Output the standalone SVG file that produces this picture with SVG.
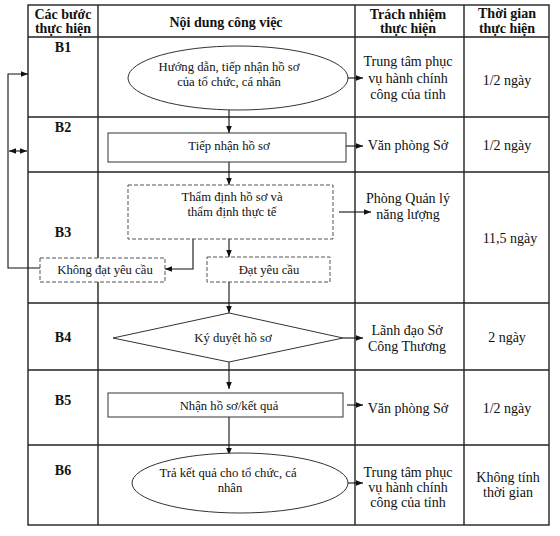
<svg xmlns="http://www.w3.org/2000/svg" width="560" height="536" viewBox="0 0 560 536">
<defs>
<marker id="ah" viewBox="0 0 10 10" refX="10" refY="5" markerWidth="7" markerHeight="7" markerUnits="userSpaceOnUse" orient="auto-start-reverse"><path d="M0,1 L10,5 L0,9 z" fill="#111"/></marker>
<style>
.grid{stroke:#222;stroke-width:1.4;fill:none}
.shape{stroke:#333;stroke-width:1;fill:#fff}
.dash{stroke:#555;stroke-width:1;fill:#fff;stroke-dasharray:4 2}
.con{stroke:#111;stroke-width:1.1;fill:none}
text{font-family:"Liberation Serif","Times New Roman",serif;fill:#111;text-anchor:middle}
.hd{font-weight:bold;font-size:14px}
.c{font-size:14px}
.s{font-size:12.7px}
</style>
</defs>
<rect width="560" height="536" fill="#fff"/>
<g id="table">
<rect class="grid" x="28" y="5" width="521" height="520"/>
<line class="grid" x1="98" y1="5" x2="98" y2="525"/>
<line class="grid" x1="355" y1="5" x2="355" y2="525"/>
<line class="grid" x1="464" y1="5" x2="464" y2="525"/>
<line class="grid" x1="28" y1="37" x2="549" y2="37"/>
<line class="grid" x1="28" y1="117" x2="549" y2="117"/>
<line class="grid" x1="28" y1="172" x2="549" y2="172"/>
<line class="grid" x1="28" y1="303" x2="549" y2="303"/>
<line class="grid" x1="28" y1="370" x2="549" y2="370"/>
<line class="grid" x1="28" y1="445" x2="549" y2="445"/>
<text class="hd" x="63" y="19">Các bước</text>
<text class="hd" x="63" y="33">thực hiện</text>
<text class="hd" x="226" y="27">Nội dung công việc</text>
<text class="hd" x="408" y="19">Trách nhiệm</text>
<text class="hd" x="408" y="33">thực hiện</text>
<text class="hd" x="507" y="18">Thời gian</text>
<text class="hd" x="507" y="33">thực hiện</text>
<text class="hd" x="63" y="52">B1</text>
<text class="hd" x="63" y="132">B2</text>
<text class="hd" x="63" y="237">B3</text>
<text class="hd" x="63" y="342">B4</text>
<text class="hd" x="63" y="405">B5</text>
<text class="hd" x="63" y="475">B6</text>
<text class="c" x="408" y="66">Trung tâm phục</text>
<text class="c" x="408" y="83">vụ hành chính</text>
<text class="c" x="408" y="99">công của tỉnh</text>
<text class="c" x="507" y="85">1/2 ngày</text>
<text class="c" x="408" y="150">Văn phòng Sở</text>
<text class="c" x="507" y="150">1/2 ngày</text>
<text class="c" x="408" y="203">Phòng Quản lý</text>
<text class="c" x="408" y="219">năng lượng</text>
<text class="c" x="510" y="243">11,5 ngày</text>
<text class="c" x="407" y="335">Lãnh đạo Sở</text>
<text class="c" x="407" y="351">Công Thương</text>
<text class="c" x="507" y="342">2 ngày</text>
<text class="c" x="408" y="413">Văn phòng Sở</text>
<text class="c" x="507" y="413">1/2 ngày</text>
<text class="c" x="408" y="477">Trung tâm phục</text>
<text class="c" x="408" y="492">vụ hành chính</text>
<text class="c" x="408" y="507">công của tỉnh</text>
<text class="c" x="508" y="482">Không tính</text>
<text class="c" x="508" y="497">thời gian</text>
</g>
<g id="connectors">
<line class="con" x1="229" y1="110" x2="229" y2="133" marker-end="url(#ah)"/>
<line class="con" x1="229" y1="162" x2="229" y2="185" marker-end="url(#ah)"/>
<line class="con" x1="229" y1="239" x2="229" y2="257" marker-end="url(#ah)"/>
<line class="con" x1="229" y1="282" x2="229" y2="313" marker-end="url(#ah)"/>
<line class="con" x1="229" y1="362" x2="229" y2="389" marker-end="url(#ah)"/>
<line class="con" x1="229" y1="417" x2="229" y2="455" marker-end="url(#ah)"/>
<polyline class="con" points="193,239 193,269 165,269" marker-end="url(#ah)"/>
<line class="con" x1="348" y1="78" x2="363" y2="78" marker-end="url(#ah)"/>
<line class="con" x1="346" y1="146" x2="363" y2="146" marker-end="url(#ah)"/>
<line class="con" x1="339" y1="212" x2="371" y2="212" marker-end="url(#ah)"/>
<line class="con" x1="343" y1="338" x2="363" y2="338" marker-end="url(#ah)"/>
<line class="con" x1="347" y1="405" x2="363" y2="405" marker-end="url(#ah)"/>
<line class="con" x1="348" y1="483" x2="363" y2="483" marker-end="url(#ah)"/>
<polyline class="con" points="40,268 8,268 8,74 28,74" marker-end="url(#ah)"/>
<line class="con" x1="9" y1="151" x2="27" y2="151" marker-start="url(#ah)" marker-end="url(#ah)"/>
</g>
<g id="n-b1">
<ellipse class="shape" cx="238" cy="78" rx="110" ry="32"/>
<text class="s" x="229" y="71">Hướng dẫn, tiếp nhận hồ sơ</text>
<text class="s" x="229" y="86">của tổ chức, cá nhân</text>
</g>
<g id="n-b2">
<rect class="shape" x="108" y="133" width="238" height="29"/>
<text class="s" x="229" y="150">Tiếp nhận hồ sơ</text>
</g>
<g id="n-b3">
<rect class="dash" x="128" y="185" width="205" height="54"/>
<text class="s" x="232" y="201">Thẩm định hồ sơ và</text>
<text class="s" x="232" y="216">thẩm định thực tế</text>
</g>
<g id="n-fail">
<rect class="dash" x="40" y="258" width="125" height="24"/>
<text class="s" x="105" y="274">Không đạt yêu cầu</text>
</g>
<g id="n-pass">
<rect class="dash" x="207" y="257" width="123" height="25"/>
<text class="s" x="269" y="274">Đạt yêu cầu</text>
</g>
<g id="n-b4">
<polygon class="shape" points="229,313 343,338 229,362 113,338"/>
<text class="s" x="233" y="342">Ký duyệt hồ sơ</text>
</g>
<g id="n-b5">
<rect class="shape" x="108" y="393" width="235" height="24"/>
<text class="s" x="229" y="410">Nhận hồ sơ/kết quả</text>
</g>
<g id="n-b6">
<ellipse class="shape" cx="240" cy="483" rx="108" ry="30"/>
<text class="s" x="228" y="477">Trả kết quả cho tổ chức, cá</text>
<text class="s" x="230" y="492">nhân</text>
</g>
</svg>
